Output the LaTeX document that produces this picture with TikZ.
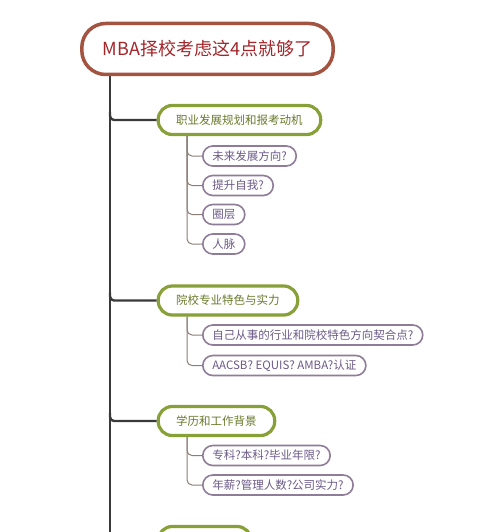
\documentclass[tikz,border=0pt]{standalone}
\usepackage{fontspec}
\setmainfont{Noto Sans CJK SC}
\definecolor{rootline}{HTML}{A3533F}
\definecolor{roottext}{HTML}{A3262A}
\definecolor{lvonel}{HTML}{88A038}
\definecolor{lvonet}{HTML}{6A7A2C}
\definecolor{lvtwol}{HTML}{8E7C98}
\definecolor{lvtwot}{HTML}{6B5A88}
\definecolor{trunkc}{HTML}{3A3A3A}
\definecolor{subc}{HTML}{8C7F78}
\tikzset{
  rootbox/.style={draw=rootline, line width=3.5pt, rounded corners=24pt, text=roottext,
    font=\fontsize{18}{20}\selectfont, minimum height=51pt, inner xsep=21pt, fill=white},
  lvone/.style={draw=lvonel, line width=3.2pt, rounded corners=14pt, text=lvonet,
    font=\fontsize{11.5}{13}\selectfont, minimum height=29pt, inner xsep=18pt, anchor=west, fill=white},
  lvtwo/.style={draw=lvtwol, line width=1.6pt, rounded corners=10pt, text=lvtwot,
    font=\fontsize{11.5}{13}\selectfont, minimum height=20pt, inner xsep=9.5pt, anchor=west, fill=white},
  trunk/.style={draw=trunkc, line width=2.4pt},
  subline/.style={draw=subc, line width=1pt, rounded corners=5pt},
}
\begin{document}
\begin{tikzpicture}[x=1pt,y=-1pt]
\useasboundingbox (0,0) rectangle (500,532);
\clip (0,0) rectangle (500,532);
\fill[white] (0,0) rectangle (500,532);
% trunk
\coordinate (ttop) at (110,70);
\coordinate (tbot) at (110,540);
\coordinate (sx) at (187,0);
\draw[trunk] (ttop) -- (tbot);
% root
\node[rootbox] (root) at (207.5,49) {MBA择校考虑这4点就够了};
% level one
\node[lvone] (a) at (156.6,120) {职业发展规划和报考动机};
\node[lvone] (b) at (156.6,300.5) {院校专业特色与实力};
\node[lvone] (c) at (156.6,421) {学历和工作背景};
\node[lvone, minimum width=93pt] (d) at (156.6,541) {};
\foreach \n/\yy in {a/120,b/300.5,c/421,d/541}{
  \draw[trunk, rounded corners=4pt] (110,\yy-8) |- (\n.west);
}
% level two
\node[lvtwo] (a1) at (202,156) {未来发展方向?};
\node[lvtwo] (a2) at (202,185.5) {提升自我?};
\node[lvtwo] (a3) at (202,214.5) {圈层};
\node[lvtwo] (a4) at (202,244) {人脉};
\node[lvtwo] (b1) at (202,335) {自己从事的行业和院校特色方向契合点?};
\node[lvtwo] (b2) at (202,365.5) {AACSB? EQUIS? AMBA?认证};
\node[lvtwo] (c1) at (202,455.5) {专科?本科?毕业年限?};
\node[lvtwo] (c2) at (202,485) {年薪?管理人数?公司实力?};
\foreach \p/\k in {a/a1,a/a2,a/a3,a/a4,b/b1,b/b2,c/c1,c/c2}{
  \draw[subline] (\p.south -| sx) |- (\k.west);
}
\end{tikzpicture}
\end{document}
